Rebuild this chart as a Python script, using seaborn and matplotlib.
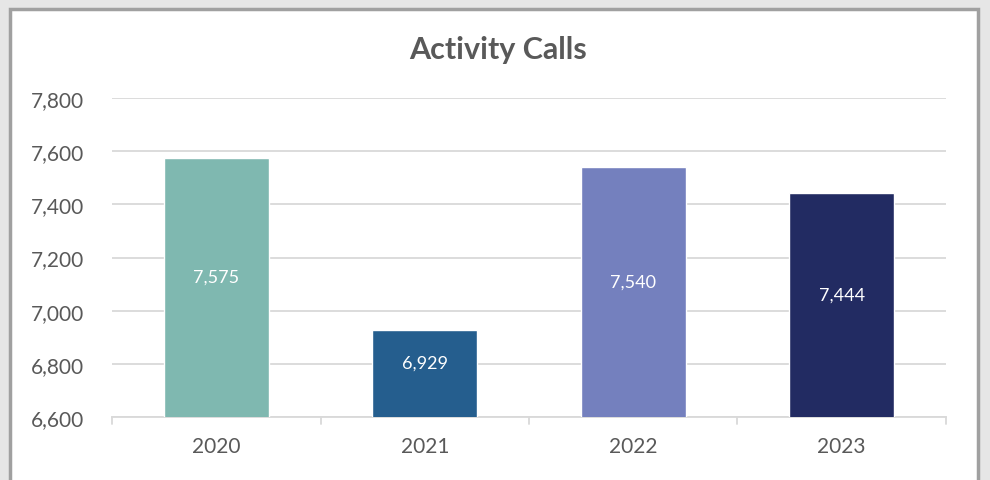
import matplotlib
matplotlib.use("Agg")
import matplotlib.pyplot as plt
from matplotlib.patches import Rectangle
import seaborn as sns
import pandas as pd

# Daten
years = ["2020", "2021", "2022", "2023"]
calls = [7575, 6929, 7540, 7444]
bar_colors = ["#7FB8B0", "#255E8E", "#7480BE", "#222B62"]
y_ticks = [6600, 6800, 7000, 7200, 7400, 7600, 7800]

df = pd.DataFrame({"Year": years, "Calls": calls})

sns.set_style("white")
plt.rcParams["font.family"] = ["Lato", "DejaVu Sans"]

fig = plt.figure(figsize=(9.9, 4.81), dpi=100, facecolor="#e6e6e6")
# weisser Rahmen mit grauem Rand
fig.patches.append(Rectangle((10 / 990, -0.05), 968 / 990, 1.05 - 10 / 481,
                             transform=fig.transFigure, facecolor="white",
                             edgecolor="#a0a0a0", linewidth=2.5, zorder=-5))

ax = fig.add_axes([112 / 990, 63 / 481, 834 / 990, 319 / 481])
ax.set_zorder(2)
ax.set_facecolor("none")

sns.barplot(data=df, x="Year", y="Calls", hue="Year", palette=bar_colors,
            width=0.505, legend=False, ax=ax, zorder=3, saturation=1)

ax.set_ylim(6600, 7800)
ax.set_xlim(-0.5, 3.5)
ax.set_yticks(y_ticks)
ax.set_yticklabels([f"{v:,}" for v in y_ticks], fontsize=15, color="#595959")
ax.yaxis.grid(True, color="#d9d9d9", linewidth=1.3, zorder=0)
ax.set_axisbelow(True)
ax.tick_params(axis="y", length=0, pad=20)
ax.tick_params(axis="x", length=0, pad=14, labelsize=15, labelcolor="#595959")

for s in ["top", "right", "left"]:
    ax.spines[s].set_visible(False)
ax.spines["bottom"].set_color("#d9d9d9")
ax.spines["bottom"].set_linewidth(1.3)

# Trennstriche unter der Achse
for b in [-0.5, 0.5, 1.5, 2.5, 3.5]:
    ax.plot([b, b], [0, -0.022], transform=ax.get_xaxis_transform(),
            color="#d9d9d9", linewidth=1.3, clip_on=False)

ax.set_xlabel("")
ax.set_ylabel("")

for i, v in enumerate(calls):
    ax.text(i, (v + 6600) / 2 + 40, f"{v:,}", ha="center", va="center",
            color="white", fontsize=13, zorder=5)

fig.text(498 / 990, 1 - 50 / 481, "Activity Calls", ha="center", va="center",
         fontsize=22, fontweight="bold", color="#595959")

fig.savefig("out.png", dpi=100, facecolor=fig.get_facecolor())
